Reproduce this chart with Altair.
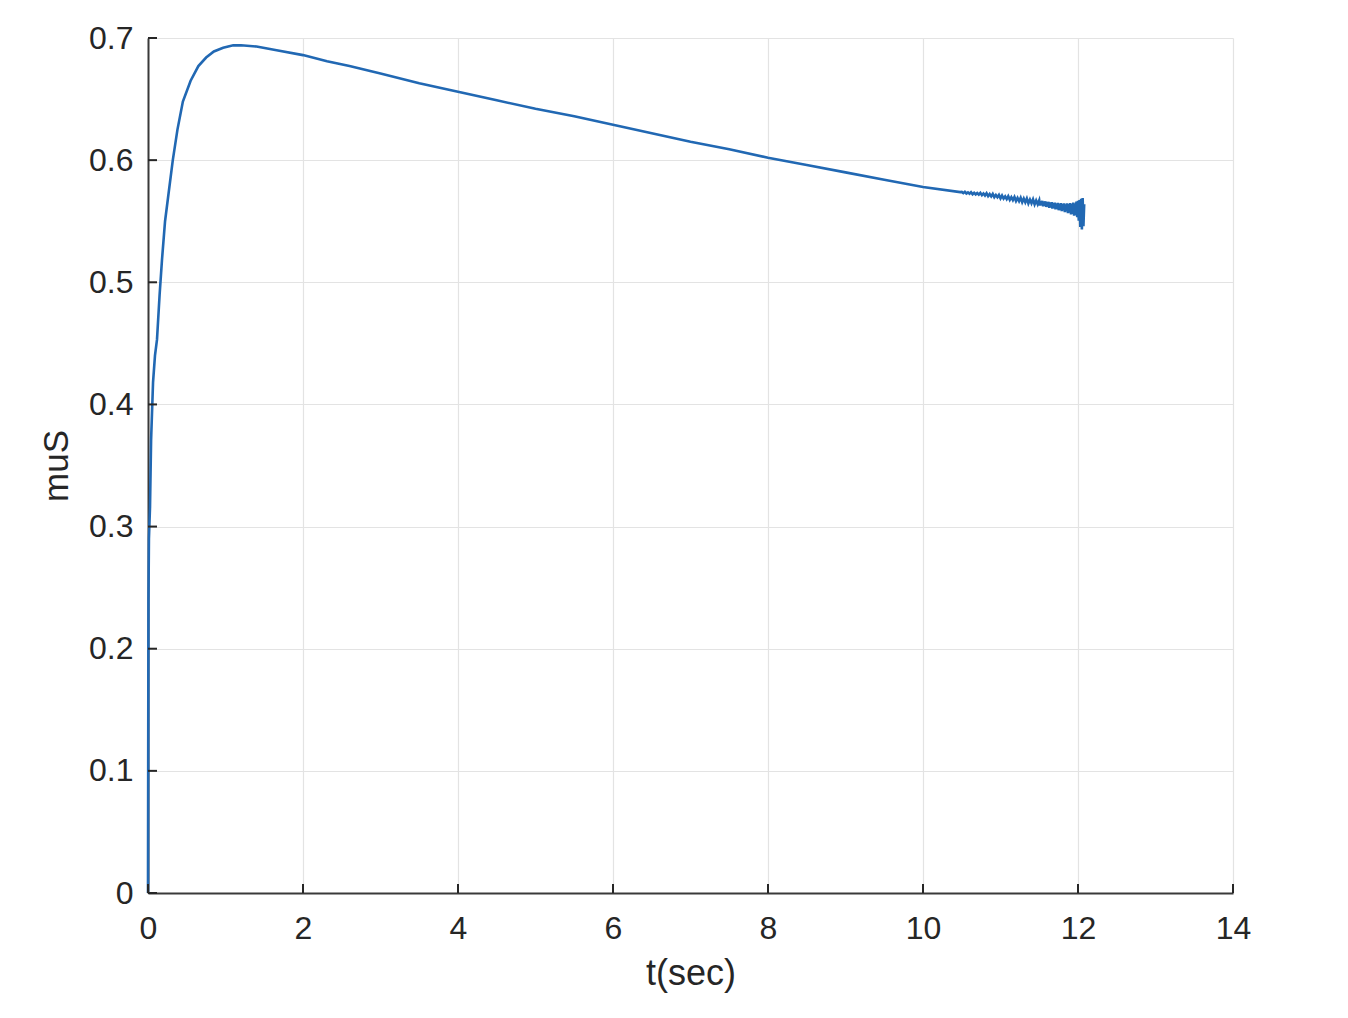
import altair as alt
import pandas as pd

# main curve (t in sec, muS)
t_main = [0.0, 0.003, 0.006, 0.012, 0.02, 0.026, 0.04, 0.065, 0.09, 0.116, 0.15, 0.18, 0.22,
          0.26, 0.32, 0.38, 0.45, 0.55, 0.65, 0.75, 0.85, 0.97, 1.1, 1.2, 1.4, 1.66, 2.0,
          2.31, 2.6, 3.0, 3.5, 4.0, 4.5, 5.0, 5.5, 6.0, 6.5, 7.0, 7.5, 8.0, 8.5, 9.0,
          9.5, 10.0, 10.48]
y_main = [0.0, 0.13, 0.24, 0.29, 0.305, 0.316, 0.371, 0.418, 0.44, 0.453, 0.49, 0.518, 0.55,
          0.57, 0.60, 0.625, 0.648, 0.665, 0.677, 0.684, 0.689, 0.692, 0.694, 0.694, 0.693, 0.690, 0.686,
          0.681, 0.677, 0.671, 0.663, 0.656, 0.649, 0.642, 0.636, 0.629, 0.622, 0.615, 0.609, 0.602, 0.596, 0.590,
          0.584, 0.578, 0.5738]

# noisy tail
t_tail = [10.50, 10.52, 10.54, 10.56, 10.58, 10.60, 10.62, 10.64, 10.66, 10.68,
          10.70, 10.72, 10.74, 10.76, 10.78, 10.80, 10.82, 10.84, 10.86, 10.88,
          10.90, 10.92, 10.94, 10.96, 10.98, 11.00, 11.02, 11.04, 11.06, 11.08,
          11.10, 11.12, 11.14, 11.16, 11.18, 11.20, 11.22, 11.24, 11.26, 11.28,
          11.30, 11.32, 11.34, 11.36, 11.38, 11.40, 11.42, 11.44, 11.46, 11.48,
          11.50, 11.51, 11.52, 11.53, 11.54, 11.55, 11.56, 11.57, 11.58, 11.59,
          11.60, 11.61, 11.62, 11.63, 11.64, 11.65, 11.66, 11.67, 11.68, 11.69,
          11.70, 11.71, 11.72, 11.73, 11.74, 11.75, 11.76, 11.77, 11.78, 11.79,
          11.80, 11.81, 11.82, 11.83, 11.84, 11.85, 11.86, 11.87, 11.88, 11.89,
          11.90, 11.91, 11.92, 11.93, 11.94, 11.95, 11.96, 11.97, 11.98, 11.99,
          12.00, 12.01, 12.02, 12.03, 12.04, 12.05, 12.06, 12.07, 12.08]
y_tail = [0.5740, 0.5730, 0.5741, 0.5727, 0.5736, 0.5725, 0.5738, 0.5721, 0.5733, 0.5720,
          0.5731, 0.5718, 0.5732, 0.5713, 0.5727, 0.5710, 0.5729, 0.5705, 0.5722, 0.5703,
          0.5723, 0.5697, 0.5714, 0.5696, 0.5715, 0.5687, 0.5710, 0.5686, 0.5703, 0.5681,
          0.5704, 0.5675, 0.5697, 0.5673, 0.5698, 0.5665, 0.5691, 0.5664, 0.5692, 0.5656,
          0.5685, 0.5655, 0.5686, 0.5646, 0.5677, 0.5647, 0.5679, 0.5638, 0.5670, 0.5639,
          0.5671, 0.5628, 0.5664, 0.5631, 0.5667, 0.5622, 0.5660, 0.5626, 0.5663, 0.5617,
          0.5655, 0.5620, 0.5659, 0.5610, 0.5651, 0.5614, 0.5656, 0.5603, 0.5649, 0.5607,
          0.5652, 0.5598, 0.5644, 0.5601, 0.5650, 0.5590, 0.5641, 0.5594, 0.5648, 0.5583,
          0.5640, 0.5588, 0.5646, 0.5574, 0.5638, 0.5580, 0.5647, 0.5566, 0.5639, 0.5570,
          0.5648, 0.5556, 0.5640, 0.5560, 0.5652, 0.5545, 0.5644, 0.5550, 0.5660, 0.5532,
          0.5668, 0.5505, 0.5674, 0.5452, 0.5683, 0.5432, 0.5690, 0.5460, 0.5640]

x_ticks = [0, 2, 4, 6, 8, 10, 12, 14]
y_ticks = [0, 0.1, 0.2, 0.3, 0.4, 0.5, 0.6, 0.7]

df = pd.DataFrame({"t": t_main + t_tail, "muS": y_main + y_tail})
df["order"] = range(len(df))

W, H = 1085, 855
FONT = "Liberation Sans"
AX = "#262626"

xs = alt.Scale(domain=[0, 14], nice=False, zero=False)
ys = alt.Scale(domain=[0, 0.7], nice=False, zero=False)

line = alt.Chart(df).mark_line(color="#2168B3", strokeWidth=2.6, strokeJoin="miter").encode(
    x=alt.X("t:Q", scale=xs, title="t(sec)",
            axis=alt.Axis(values=x_ticks, format="d", grid=True, tickSize=0, labelFlush=False,
                          labelPadding=20, titlePadding=12, labelFontSize=32, titleFontSize=36)),
    y=alt.Y("muS:Q", scale=ys, title="muS",
            axis=alt.Axis(values=y_ticks, format=".1~f", grid=True, tickSize=0, labelFlush=False,
                          labelPadding=15, titlePadding=14, labelFontSize=32, titleFontSize=35)),
    order="order:Q",
)

xt = alt.Chart(pd.DataFrame({"v": x_ticks})).mark_rule(color=AX, strokeWidth=2).encode(
    x=alt.X("v:Q", scale=xs), y=alt.value(H), y2=alt.value(H - 9))
yt = alt.Chart(pd.DataFrame({"v": y_ticks})).mark_rule(color=AX, strokeWidth=2).encode(
    y=alt.Y("v:Q", scale=ys), x=alt.value(0), x2=alt.value(9))

chart = alt.layer(line, xt, yt).properties(
    width=W, height=H,
    autosize=alt.AutoSizeParams(type="none"),
    padding={"left": 140, "top": 30, "right": 100, "bottom": 100},
    background="white",
).configure_axis(
    domainColor="#3a3a3a", domainWidth=2, gridColor="#e3e3e3", gridWidth=1.2,
    labelColor=AX, titleColor=AX, labelFont=FONT, titleFont=FONT,
    titleFontWeight="normal",
).configure_view(strokeWidth=0)

chart.save("out.html", embed_options={"renderer": "svg", "actions": False})
